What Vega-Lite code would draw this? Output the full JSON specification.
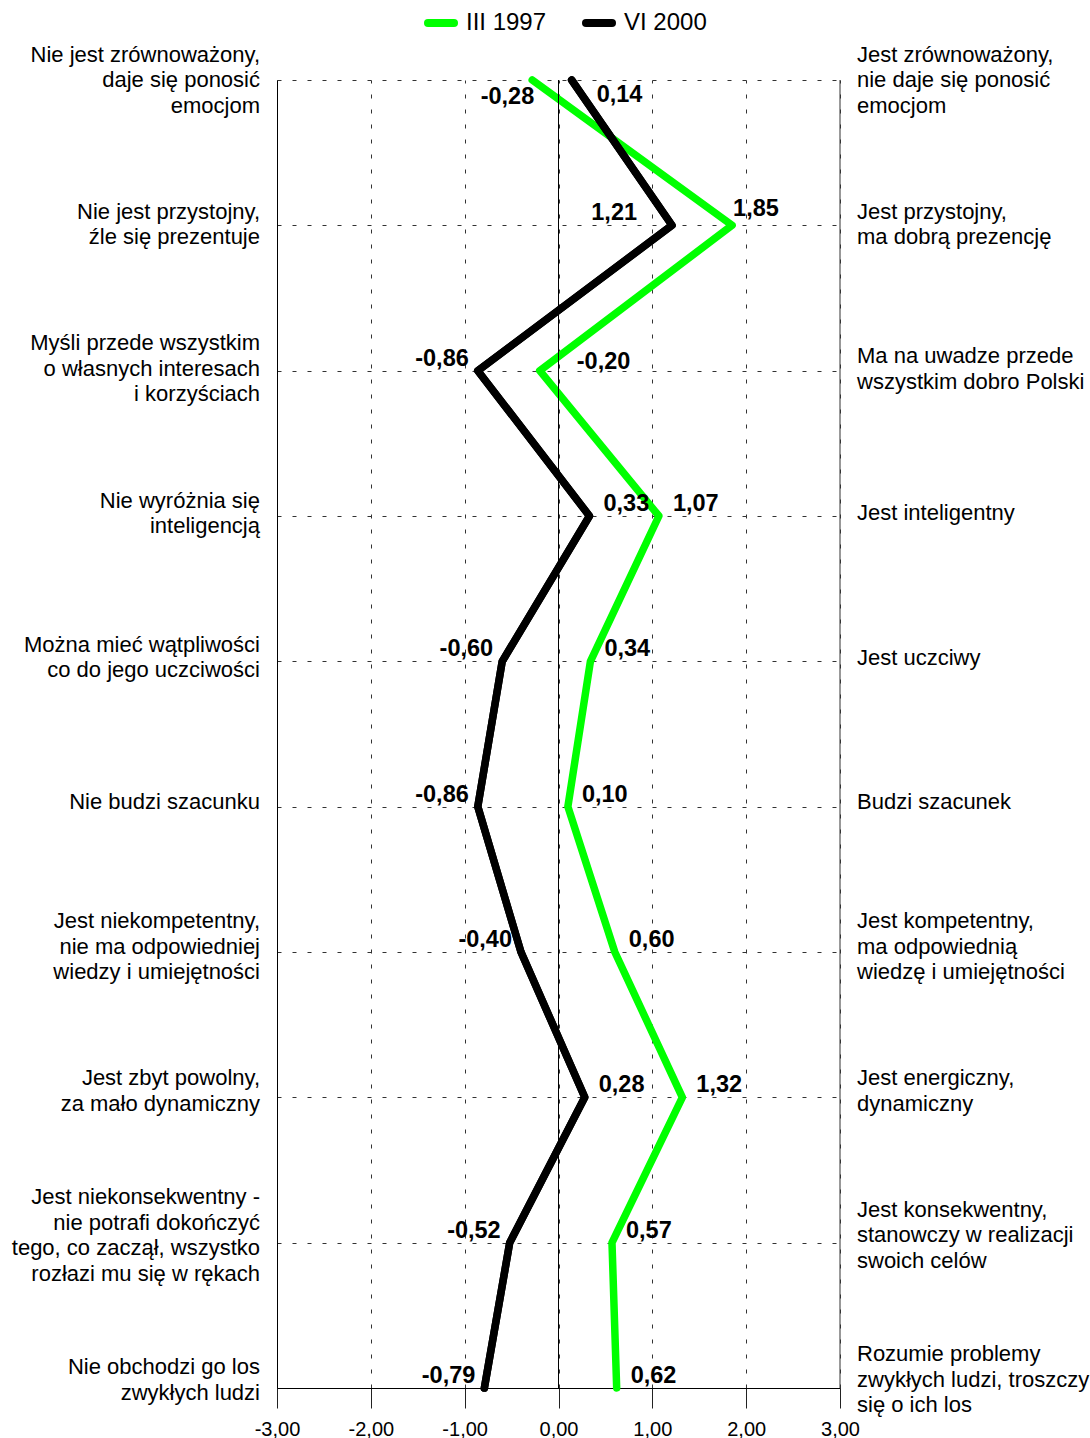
{
  "$schema": "https://vega.github.io/schema/vega-lite/v6.json",
  "autosize": {"type": "none"},
  "width": 563,
  "height": 1308,
  "padding": {"left": 277, "top": 80, "right": 250, "bottom": 50},
  "background": "white",
  "config": {
    "font": "Liberation Sans",
    "view": {"stroke": null},
    "locale": {"number": {"decimal": ",", "thousands": " ", "grouping": [3], "currency": ["", " zł"], "minus": "-"}},
    "text": {"font": "Liberation Sans", "color": "black"},
    "axisX": {"ticks": true, "tickColor": "#222", "tickWidth": 1, "tickSize": 20, "tickOpacity": 1, "domainColor": "black"}
  },
  "datasets": {
    "cats": [
      {"row": 1, "left": "Nie jest zrównoważony,\ndaje się  ponosić\nemocjom", "right": "Jest zrównoważony,\nnie daje się  ponosić\nemocjom"},
      {"row": 2, "left": "Nie jest przystojny,\nźle się prezentuje", "right": "Jest przystojny,\nma dobrą prezencję"},
      {"row": 3, "left": "Myśli przede wszystkim\no własnych interesach\ni korzyściach", "right": "Ma na uwadze przede\nwszystkim dobro Polski"},
      {"row": 4, "left": "Nie wyróżnia się\ninteligencją", "right": "Jest  inteligentny"},
      {"row": 5, "left": "Można mieć wątpliwości\nco do jego uczciwości", "right": "Jest uczciwy"},
      {"row": 6, "left": "Nie budzi szacunku", "right": "Budzi szacunek"},
      {"row": 7, "left": "Jest  niekompetentny,\nnie ma odpowiedniej\nwiedzy i umiejętności", "right": "Jest  kompetentny,\nma odpowiednią\nwiedzę i umiejętności"},
      {"row": 8, "left": "Jest zbyt powolny,\nza mało dynamiczny", "right": "Jest energiczny,\ndynamiczny"},
      {"row": 9, "left": "Jest niekonsekwentny -\nnie potrafi dokończyć\ntego, co zaczął, wszystko\nrozłazi mu się w rękach", "right": "Jest konsekwentny,\nstanowczy w realizacji\nswoich celów"},
      {"row": 10, "left": "Nie obchodzi go los\nzwykłych ludzi", "right": "Rozumie problemy\nzwykłych ludzi, troszczy\nsię o ich los"}
    ],
    "vals": [
      {"row": 1, "series": "III 1997", "v": -0.28},
      {"row": 2, "series": "III 1997", "v": 1.85},
      {"row": 3, "series": "III 1997", "v": -0.20},
      {"row": 4, "series": "III 1997", "v": 1.07},
      {"row": 5, "series": "III 1997", "v": 0.34},
      {"row": 6, "series": "III 1997", "v": 0.10},
      {"row": 7, "series": "III 1997", "v": 0.60},
      {"row": 8, "series": "III 1997", "v": 1.32},
      {"row": 9, "series": "III 1997", "v": 0.57},
      {"row": 10, "series": "III 1997", "v": 0.62},
      {"row": 1, "series": "VI 2000", "v": 0.14},
      {"row": 2, "series": "VI 2000", "v": 1.21},
      {"row": 3, "series": "VI 2000", "v": -0.86},
      {"row": 4, "series": "VI 2000", "v": 0.33},
      {"row": 5, "series": "VI 2000", "v": -0.60},
      {"row": 6, "series": "VI 2000", "v": -0.86},
      {"row": 7, "series": "VI 2000", "v": -0.40},
      {"row": 8, "series": "VI 2000", "v": 0.28},
      {"row": 9, "series": "VI 2000", "v": -0.52},
      {"row": 10, "series": "VI 2000", "v": -0.79}
    ]
  },
  "layer": [
    {
      "data": {"name": "vals"},
      "mark": {"type": "line", "strokeWidth": 7.5, "strokeCap": "round", "strokeJoin": "round"},
      "encoding": {
        "x": {"field": "v", "type": "quantitative",
          "scale": {"domain": [-3, 3], "nice": false, "zero": false},
          "axis": {"values": [-3, -2, -1, 0, 1, 2, 3], "format": ".2f", "title": null,
            "grid": true, "gridDash": [4, 11], "gridColor": "#333", "gridWidth": 1, "gridOpacity": 1,
            "domainColor": "black", "domainWidth": 1,
            "labelFlush": false, "labelOverlap": false,
            "labelFontSize": 20, "labelPadding": 11, "labelColor": "black", "labelFont": "Liberation Sans"}},
        "y": {"field": "row", "type": "quantitative",
          "scale": {"domain": [1, 10], "reverse": true, "nice": false, "zero": false},
          "axis": {"values": [1, 2, 3, 4, 5, 6, 7, 8, 9, 10], "labels": false, "ticks": false, "title": null,
            "grid": true, "gridDash": [4, 11], "gridColor": "#333", "gridWidth": 1, "gridOpacity": 1,
            "domainColor": "black", "domainWidth": 1}},
        "color": {"field": "series", "type": "nominal",
          "scale": {"domain": ["III 1997", "VI 2000"], "range": ["#00ff00", "#000000"]},
          "legend": {"title": null, "orient": "none", "legendX": 147, "legendY": -74, "direction": "horizontal",
            "labelFontSize": 24, "labelFont": "Liberation Sans", "labelColor": "black",
            "symbolType": "stroke", "symbolStrokeWidth": 8, "symbolSize": 676, "labelOffset": 8, "columnPadding": 23,
            "encode": {"symbols": {"update": {"strokeCap": {"value": "round"}}}}}},
        "order": {"field": "row"}
      }
    },
    {
      "data": {"values": [{}]},
      "mark": {"type": "rule", "color": "black", "strokeWidth": 1},
      "encoding": {"x": {"datum": 0, "type": "quantitative"}}
    },
    {
      "data": {"values": [{}]},
      "mark": {"type": "rule", "color": "#333", "strokeWidth": 1},
      "encoding": {"x": {"datum": 3, "type": "quantitative"}}
    },
    {
      "data": {"name": "vals"},
      "mark": {"type": "line", "strokeWidth": 7.5, "strokeCap": "round", "strokeJoin": "round", "color": "black"},
      "transform": [{"filter": "datum.series == 'VI 2000'"}],
      "encoding": {
        "x": {"field": "v", "type": "quantitative"},
        "y": {"field": "row", "type": "quantitative"},
        "order": {"field": "row"}
      }
    },
    {
      "data": {"name": "cats"},
      "mark": {"type": "text", "align": "right", "baseline": "middle", "dx": -17,
        "dy": {"expr": "-(length(split(datum.left, '\\n')) - 1) * 12.75 - (datum.row - 1) * 0.9"},
        "fontSize": 22, "lineHeight": 25.5, "lineBreak": "\n"},
      "encoding": {"x": {"datum": -3, "type": "quantitative"}, "y": {"field": "row", "type": "quantitative"}, "text": {"field": "left"}}
    },
    {
      "data": {"name": "cats"},
      "mark": {"type": "text", "align": "left", "baseline": "middle", "dx": 17,
        "dy": {"expr": "-(length(split(datum.right, '\\n')) - 1) * 12.75 - (datum.row - 1) * 0.9"},
        "fontSize": 22, "lineHeight": 25.5, "lineBreak": "\n"},
      "encoding": {"x": {"datum": 3, "type": "quantitative"}, "y": {"field": "row", "type": "quantitative"}, "text": {"field": "right"}}
    },
    {
      "data": {"name": "vals"},
      "transform": [{"filter": "datum.row > 3 && (datum.series == 'III 1997' || datum.row == 4 || datum.row == 8)"}],
      "mark": {"type": "text", "align": "left", "baseline": "middle", "dx": 14, "dy": -12, "fontSize": 23.5, "fontWeight": "bold"},
      "encoding": {"x": {"field": "v", "type": "quantitative"}, "y": {"field": "row", "type": "quantitative"}, "text": {"field": "v", "type": "quantitative", "format": ".2f"}}
    },
    {
      "data": {"name": "vals"},
      "transform": [{"filter": "datum.row > 2 && datum.series == 'VI 2000' && datum.row != 4 && datum.row != 8"}],
      "mark": {"type": "text", "align": "right", "baseline": "middle", "dx": -9, "dy": -12, "fontSize": 23.5, "fontWeight": "bold"},
      "encoding": {"x": {"field": "v", "type": "quantitative"}, "y": {"field": "row", "type": "quantitative"}, "text": {"field": "v", "type": "quantitative", "format": ".2f"}}
    },
    {
      "data": {"name": "vals"},
      "transform": [{"filter": "datum.row == 2 && datum.series == 'VI 2000'"}],
      "mark": {"type": "text", "align": "right", "baseline": "middle", "dx": -35, "dy": -12, "fontSize": 23.5, "fontWeight": "bold"},
      "encoding": {"x": {"field": "v", "type": "quantitative"}, "y": {"field": "row", "type": "quantitative"}, "text": {"field": "v", "type": "quantitative", "format": ".2f"}}
    },
    {
      "data": {"name": "vals"},
      "transform": [{"filter": "datum.row == 2 && datum.series == 'III 1997'"}],
      "mark": {"type": "text", "align": "left", "baseline": "middle", "dx": 1, "dy": -16, "fontSize": 23.5, "fontWeight": "bold"},
      "encoding": {"x": {"field": "v", "type": "quantitative"}, "y": {"field": "row", "type": "quantitative"}, "text": {"field": "v", "type": "quantitative", "format": ".2f"}}
    },
    {
      "data": {"name": "vals"},
      "transform": [{"filter": "datum.row == 3 && datum.series == 'III 1997'"}],
      "mark": {"type": "text", "align": "left", "baseline": "middle", "dx": 37, "dy": -9, "fontSize": 23.5, "fontWeight": "bold"},
      "encoding": {"x": {"field": "v", "type": "quantitative"}, "y": {"field": "row", "type": "quantitative"}, "text": {"field": "v", "type": "quantitative", "format": ".2f"}}
    },
    {
      "data": {"name": "vals"},
      "transform": [{"filter": "datum.row == 1 && datum.series == 'III 1997'"}],
      "mark": {"type": "text", "align": "right", "baseline": "middle", "dx": 2, "dy": 17, "fontSize": 23.5, "fontWeight": "bold"},
      "encoding": {"x": {"field": "v", "type": "quantitative"}, "y": {"field": "row", "type": "quantitative"}, "text": {"field": "v", "type": "quantitative", "format": ".2f"}}
    },
    {
      "data": {"name": "vals"},
      "transform": [{"filter": "datum.row == 1 && datum.series == 'VI 2000'"}],
      "mark": {"type": "text", "align": "left", "baseline": "middle", "dx": 25, "dy": 15, "fontSize": 23.5, "fontWeight": "bold"},
      "encoding": {"x": {"field": "v", "type": "quantitative"}, "y": {"field": "row", "type": "quantitative"}, "text": {"field": "v", "type": "quantitative", "format": ".2f"}}
    }
  ]
}
